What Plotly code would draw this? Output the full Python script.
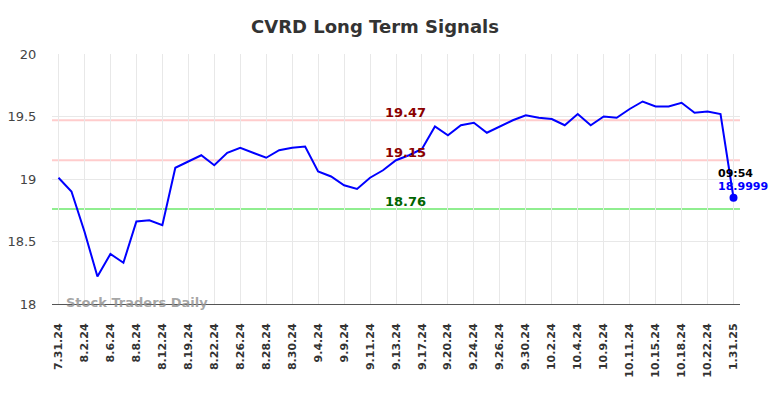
import plotly.graph_objects as go

tick_labels = ["7.31.24", "8.2.24", "8.6.24", "8.8.24", "8.12.24", "8.19.24", "8.22.24",
               "8.26.24", "8.28.24", "8.30.24", "9.4.24", "9.9.24", "9.11.24", "9.13.24",
               "9.17.24", "9.20.24", "9.24.24", "9.26.24", "9.30.24", "10.2.24", "10.4.24",
               "10.9.24", "10.11.24", "10.15.24", "10.18.24", "10.22.24", "1.31.25"]

prices = [19.01, 18.90, 18.58, 18.22, 18.40, 18.33, 18.66, 18.67, 18.63, 19.09,
          19.14, 19.19, 19.11, 19.21, 19.25, 19.21, 19.17, 19.23, 19.25, 19.26,
          19.06, 19.02, 18.95, 18.92, 19.01, 19.07, 19.15, 19.19, 19.24, 19.42,
          19.35, 19.43, 19.45, 19.37, 19.42, 19.47, 19.51, 19.49, 19.48, 19.43,
          19.52, 19.43, 19.50, 19.49, 19.56, 19.62, 19.58, 19.58, 19.61, 19.53,
          19.54, 19.52, 18.85]

resistance_high = 19.47
resistance_low = 19.15
support = 18.76
last_time = "09:54"
last_label = "18.9999"

x_idx = list(range(len(prices)))
tick_vals = list(range(0, len(prices), 2))

fig = go.Figure()
fig.add_trace(go.Scatter(x=x_idx, y=prices, mode="lines",
                         line=dict(color="#0000ff", width=2), hoverinfo="skip"))
fig.add_trace(go.Scatter(x=[x_idx[-1]], y=[prices[-1]], mode="markers",
                         marker=dict(color="#0000ff", size=8), hoverinfo="skip"))

for val, col in [(resistance_high, "#ffcccc"), (resistance_low, "#ffcccc"), (support, "#90ee90")]:
    fig.add_shape(type="line", xref="paper", x0=0, x1=1, yref="y", y0=val, y1=val,
                  line=dict(color=col, width=2), layer="below")

label_x = 26.7
for val, col in [(resistance_high, "#8b0000"), (resistance_low, "#8b0000"), (support, "#006400")]:
    fig.add_annotation(x=label_x, y=val, text=f"<b>{val:.2f}</b>", showarrow=False,
                       yshift=8, font=dict(family="DejaVu Sans", size=13, color=col))

fig.add_annotation(x=x_idx[-1], y=prices[-1], text=f"<b>{last_time}</b>", showarrow=False,
                   xshift=2, yshift=24, font=dict(family="DejaVu Sans", size=11, color="#000000"))
fig.add_annotation(x=x_idx[-1], y=prices[-1], text=f"<b>{last_label}</b>", showarrow=False,
                   xshift=9, yshift=11, font=dict(family="DejaVu Sans", size=11, color="#0000ff"))

fig.add_annotation(xref="paper", yref="paper", x=0.018, y=0.0, xanchor="left", yanchor="middle",
                   yshift=2,
                   text="<b>Stock Traders Daily</b>", showarrow=False,
                   font=dict(family="DejaVu Sans", size=13, color="rgba(150,150,150,0.85)"))

fig.update_layout(
    width=784, height=398,
    margin=dict(l=52, r=44, t=54, b=94, autoexpand=False),
    paper_bgcolor="white", plot_bgcolor="white",
    showlegend=False,
    title=dict(text="<b>CVRD Long Term Signals</b>", x=375/784, xanchor="center",
               y=1 - 27/398, yanchor="middle", xref="container", yref="container",
               font=dict(family="DejaVu Sans", size=18, color="#333333")),
    xaxis=dict(range=[-0.5, 52.5], tickmode="array", tickvals=tick_vals, ticktext=tick_labels,
               tickangle=-90, showgrid=True, gridcolor="#e8e8e8", gridwidth=1, automargin=False,
               zeroline=False, showline=True, linecolor="#555555", linewidth=1,
               ticks="outside", ticklen=14, tickcolor="rgba(0,0,0,0)",
               tickfont=dict(family="DejaVu Sans", size=11, color="#333333", weight="bold")),
    yaxis=dict(range=[18, 20], tickvals=[18, 18.5, 19, 19.5, 20],
               ticktext=["18", "18.5", "19", "19.5", "20"], automargin=False,
               showgrid=True, gridcolor="#e8e8e8", gridwidth=1, zeroline=False,
               ticks="outside", ticklen=12, tickcolor="rgba(0,0,0,0)",
               tickfont=dict(family="DejaVu Sans", size=13, color="#444444")),
)

fig.write_html("out.html", config={"displayModeBar": False},
               post_script="document.body.style.margin='0';document.body.style.overflow='hidden';")
